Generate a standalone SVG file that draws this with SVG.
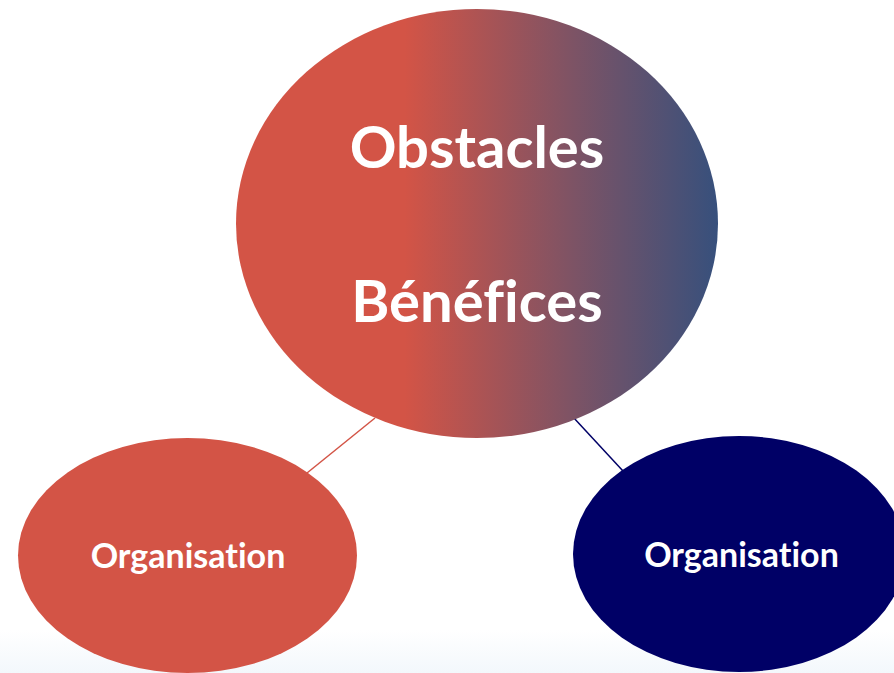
<svg xmlns="http://www.w3.org/2000/svg" width="894" height="673" viewBox="0 0 894 673">
<style>
.lbl{font-family:Lato,"Open Sans","Liberation Sans",sans-serif;font-weight:bold;fill:#fff;text-anchor:middle;font-variant-ligatures:none;font-feature-settings:"liga" 0}
.big{font-size:58px}
.small{font-size:34px}
</style>
<defs>
<linearGradient id="g" x1="236" y1="0" x2="718" y2="0" gradientUnits="userSpaceOnUse">
<stop offset="0" stop-color="#D35446"/>
<stop offset="0.35" stop-color="#D35446"/>
<stop offset="0.7" stop-color="#7D5365"/>
<stop offset="1" stop-color="#37507C"/>
</linearGradient>
<linearGradient id="bg" x1="0" y1="0" x2="0" y2="1">
<stop offset="0" stop-color="#FFFFFF"/>
<stop offset="1" stop-color="#F3F8FC"/>
</linearGradient>
</defs>
<rect x="0" y="0" width="894" height="673" fill="#fff"/>
<rect x="0" y="630" width="894" height="43" fill="url(#bg)"/>
<g id="connectors">
<line x1="375" y1="418" x2="307" y2="473" stroke="#D35446" stroke-width="1.5"/>
<line x1="573" y1="417" x2="623" y2="471" stroke="#000066" stroke-width="1.5"/>
</g>
<g id="center">
<ellipse cx="477" cy="223.5" rx="241" ry="214.5" fill="url(#g)"/>
<text class="lbl big" x="477" y="168">Obstacles</text>
<text class="lbl big" x="477" y="322">Bénéfices</text>
</g>
<g id="left">
<ellipse cx="187.5" cy="555.5" rx="169.5" ry="117.5" fill="#D35446"/>
<text class="lbl small" x="188" y="568">Organisation</text>
</g>
<g id="right">
<ellipse cx="739" cy="554" rx="166" ry="118" fill="#000066"/>
<text class="lbl small" x="741.5" y="567">Organisation</text>
</g>
</svg>
